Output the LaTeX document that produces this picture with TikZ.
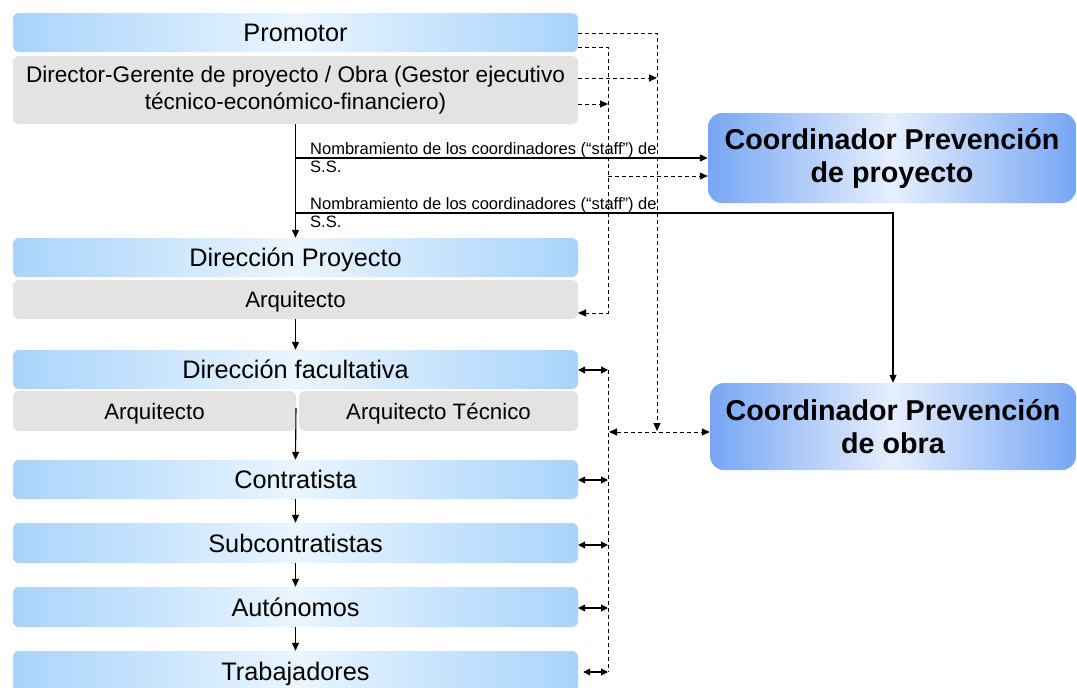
\documentclass[tikz,border=0pt]{standalone}
\usepackage{fontspec}
\setmainfont{Liberation Sans}
\usetikzlibrary{arrows.meta,fadings}
\definecolor{bside}{HTML}{A9D3FA}
\definecolor{bmid}{HTML}{EAF5FF}
\definecolor{cside}{HTML}{77A6F4}
\definecolor{cmid}{HTML}{E6EFFD}
\definecolor{gbox}{HTML}{E3E3E3}
\begin{document}
\begin{tikzpicture}[x=1pt,y=-1pt,
  bluebox/.style={rounded corners=6pt, left color=bside, right color=bside, middle color=bmid,
    minimum width=565pt, minimum height=39pt, inner sep=0pt, text height=18pt, text depth=0pt,
    font=\fontsize{25.3}{28}\selectfont, text=black},
  graybox/.style={rounded corners=6pt, fill=gbox, minimum width=565pt, minimum height=39pt,
    inner sep=0pt, text height=16pt, text depth=0pt, font=\fontsize{22.3}{26}\selectfont, text=black},
  coordbox/.style={rounded corners=14pt, left color=cside, right color=cside, middle color=cmid,
    minimum width=368pt, minimum height=90pt, inner sep=0pt, align=center,
    font=\fontsize{28.7}{33}\bfseries\selectfont, text=black},
  lbl/.style={inner sep=0pt, font=\fontsize{16.5}{18}\selectfont, text=black},
  conn/.style={line width=1.1pt, -{Triangle[length=8pt,width=7pt]}},
  dconn/.style={line width=1pt, dash pattern=on 4pt off 3pt, -{Triangle[length=8pt,width=7pt]}},
  dline/.style={line width=1pt, dash pattern=on 4pt off 3pt},
  ddconn/.style={line width=1pt, dash pattern=on 4pt off 3pt, {Triangle[length=8pt,width=7pt]}-{Triangle[length=8pt,width=7pt]}},
  dbl/.style={line width=1.1pt, {Triangle[length=7pt,width=7pt]}-{Triangle[length=7pt,width=7pt]}}
]
\useasboundingbox (0,0) rectangle (1077,688);
\fill[white] (0,0) rectangle (1077,688);

% left column
\node[bluebox] (prom) at (295.5,32.5) {Promotor};
\node[graybox, minimum height=68pt, text height=, text depth=, align=center,
  font=\fontsize{22.6}{27}\selectfont] (dir) at (295.5,90) {Director-Gerente de proyecto / Obra (Gestor ejecutivo\\t\'ecnico-econ\'omico-financiero)};
\node[bluebox] (dproy) at (295.5,257.5) {Direcci\'on Proyecto};
\node[graybox] (arq1) at (295.5,299.5) {Arquitecto};
\node[bluebox] (dfac) at (295.5,369.5) {Direcci\'on facultativa};
\node[graybox, minimum width=283pt, minimum height=40pt] (arqA) at (154.5,411) {Arquitecto};
\node[graybox, minimum width=279pt, minimum height=40pt] (arqT) at (438.5,411) {Arquitecto T\'ecnico};
\node[bluebox] (contr) at (295.5,479.5) {Contratista};
\node[bluebox, minimum height=40pt] (sub) at (295.5,543) {Subcontratistas};
\node[bluebox, minimum height=40pt] (aut) at (295.5,607) {Aut\'onomos};
\node[bluebox, minimum height=41pt] (trab) at (295.5,671.5) {Trabajadores};

% coordinators
\node[coordbox] (cproy) at (892,158) {Coordinador Prevenci\'on\\de proyecto};
\node[coordbox, minimum width=366pt, minimum height=87pt] (cobra) at (893,426.5) {Coordinador Prevenci\'on\\de obra};

% solid vertical chain
\draw[conn] (dir.south) -- (dproy.north);
\draw[conn] (arq1.south) -- (dfac.north);
\coordinate (split) at (296,408);
\draw[conn] (split) -- (contr.north);
\draw[conn] (contr.south) -- (sub.north);
\draw[conn] (sub.south) -- (aut.north);
\draw[conn] (aut.south) -- (trab.north);

% appointments
\coordinate (j1) at (296,158);
\coordinate (j2) at (296,213);
\draw[conn] (j1) -- (j1 -| cproy.west);
\draw[conn] (j2) -| (cobra.north);
\node[lbl, anchor=base west] (l1a) at (310,154) {Nombramiento de los coordinadores (\textquotedblleft staff\textquotedblright) de};
\node[lbl, anchor=base west] (l1b) at (310,172) {S.S.};
\node[lbl, anchor=base west] (l2a) at (310,209) {Nombramiento de los coordinadores (\textquotedblleft staff\textquotedblright) de};
\node[lbl, anchor=base west] (l2b) at (310,227) {S.S.};

% dashed connectors
\coordinate (pA) at (578,33);
\coordinate (pAc) at (657,33);
\coordinate (pAe) at (657,431);
\draw[dconn] (pA) -- (pAc) -- (pAe);
\coordinate (pB) at (578,47);
\coordinate (pBc) at (608,47);
\coordinate (pBd) at (608,313);
\coordinate (pBe) at (578,313);
\draw[dconn] (pB) -- (pBc) -- (pBd) -- (pBe);
\coordinate (dA) at (578,78);
\coordinate (dAe) at (657,78);
\draw[dconn] (dA) -- (dAe);
\coordinate (dB) at (578,104);
\coordinate (dBe) at (608,104);
\draw[dconn] (dB) -- (dBe);
\coordinate (cp) at (608,176);
\draw[dconn] (cp) -- (cp -| cproy.west);

% double arrows to the bottom bus
\coordinate (b1) at (608,370);
\coordinate (b2) at (608,480);
\coordinate (b3) at (608,545);
\coordinate (b4) at (608,608);
\coordinate (b5) at (608,672);
\draw[dbl] (b1 -| dfac.east) -- (b1);
\draw[dbl] (b2 -| contr.east) -- (b2);
\draw[dbl] (b3 -| sub.east) -- (b3);
\draw[dbl] (b4 -| aut.east) -- (b4);
\draw[dbl] ([xshift=5pt]b5 -| trab.east) -- (b5);
\draw[dline] (b1) -- (b5);
\coordinate (bo) at (609,432);
\draw[ddconn] (bo) -- (bo -| cobra.west);
\end{tikzpicture}
\end{document}
